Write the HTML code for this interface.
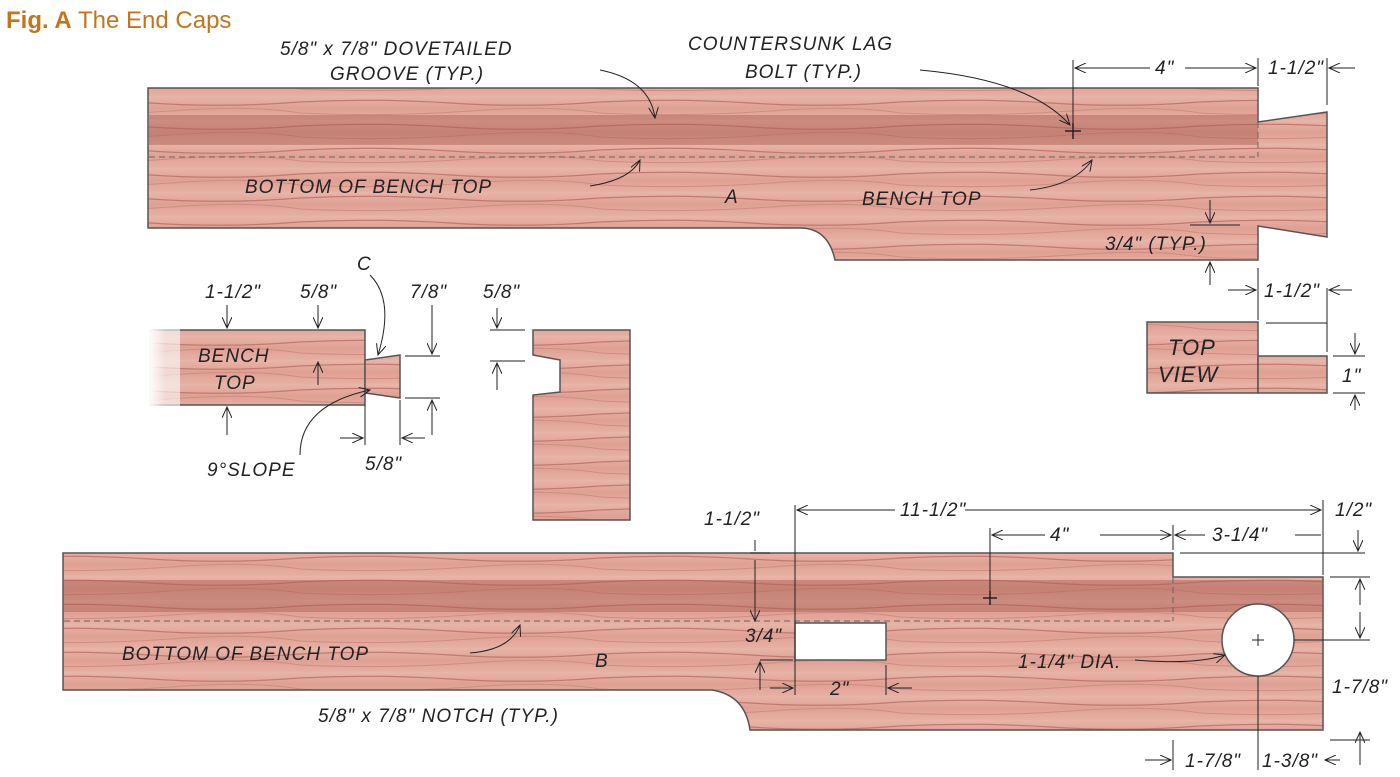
<!DOCTYPE html>
<html><head><meta charset="utf-8"><style>
html,body{margin:0;padding:0;background:#fff;width:1400px;height:777px;overflow:hidden}
svg text{font-family:"Liberation Sans",sans-serif;font-style:italic;fill:#222;font-size:19px;letter-spacing:1px}
</style></head><body>
<svg width="1400" height="777" viewBox="0 0 1400 777" xmlns="http://www.w3.org/2000/svg">
<defs>
<linearGradient id="w" x1="0" y1="0" x2="0" y2="1">
<stop offset="0" stop-color="#e8b6a9"/><stop offset="0.5" stop-color="#dea093"/><stop offset="1" stop-color="#e6b0a3"/></linearGradient>
<pattern id="g" width="300" height="24" patternUnits="userSpaceOnUse">
<rect width="300" height="24" fill="url(#w)"/>
<path d="M0 6 Q75 2 150 7 T300 6" stroke="#c27a70" stroke-width="1.2" fill="none"/>
<path d="M0 17 Q90 21 170 15 T300 17" stroke="#cf8d82" stroke-width="1" fill="none"/>
</pattern>
<linearGradient id="fade" x1="0" x2="1"><stop offset="0" stop-color="#fff"/><stop offset="0.25" stop-color="#fff" stop-opacity="0"/></linearGradient>
<marker id="a" markerWidth="12" markerHeight="10" refX="11" refY="5" orient="auto" markerUnits="userSpaceOnUse"><path d="M0 0 L11 5 L0 10" fill="none" stroke="#222" stroke-width="1"/></marker>
</defs>
<text x="6" y="28" style="font-style:normal;font-size:24px;fill:#c4751c;letter-spacing:0"><tspan font-weight="bold">Fig. A</tspan>  The End Caps</text>

<!-- Board A -->
<path d="M148 88 H1258 V122 L1327 112 V237 L1258 226 V260 H835 Q828 228 800 228 H148 Z" fill="url(#g)" stroke="#555" stroke-width="1.5"/>
<rect x="149" y="115" width="1109" height="30" fill="#a85a52" opacity="0.45"/>
<line x1="149" y1="157" x2="1258" y2="157" stroke="#666" stroke-dasharray="6 4"/>
<line x1="1258" y1="122" x2="1258" y2="157" stroke="#666" stroke-dasharray="6 4"/>
<text x="245" y="193">BOTTOM OF BENCH TOP</text>
<path d="M590 186 Q630 180 640 160" fill="none" stroke="#222" marker-end="url(#a)"/>
<text x="725" y="203">A</text>
<text x="862" y="205">BENCH TOP</text>
<path d="M1030 190 Q1075 185 1092 160" fill="none" stroke="#222" marker-end="url(#a)"/>
<text x="280" y="55">5/8" x 7/8" DOVETAILED</text>
<text x="330" y="80">GROOVE (TYP.)</text>
<path d="M600 70 Q650 80 655 118" fill="none" stroke="#222" marker-end="url(#a)"/>
<text x="688" y="50">COUNTERSUNK LAG</text>
<text x="745" y="78">BOLT (TYP.)</text>
<path d="M920 70 Q1030 80 1070 125" fill="none" stroke="#222" marker-end="url(#a)"/>
<path d="M1065 131 H1081 M1073 123 V139" stroke="#222" stroke-width="1.5"/>
<line x1="1073" y1="60" x2="1073" y2="123" stroke="#222"/>
<line x1="1150" y1="68" x2="1075" y2="68" stroke="#222" marker-end="url(#a)"/>
<line x1="1185" y1="68" x2="1256" y2="68" stroke="#222" marker-end="url(#a)"/>
<text x="1155" y="74">4"</text>
<line x1="1258" y1="58" x2="1258" y2="86" stroke="#222"/>
<text x="1268" y="74">1-1/2"</text>
<line x1="1355" y1="68" x2="1329" y2="68" stroke="#222" marker-end="url(#a)"/>
<line x1="1327" y1="58" x2="1327" y2="105" stroke="#222"/>
<line x1="1190" y1="225" x2="1240" y2="225" stroke="#222"/>
<line x1="1210" y1="200" x2="1210" y2="223" stroke="#222" marker-end="url(#a)"/>
<line x1="1210" y1="285" x2="1210" y2="262" stroke="#222" marker-end="url(#a)"/>
<text x="1105" y="250">3/4" (TYP.)</text>

<!-- top view -->
<line x1="1258" y1="268" x2="1258" y2="320" stroke="#222"/>
<line x1="1327" y1="288" x2="1327" y2="352" stroke="#222"/>
<line x1="1228" y1="290" x2="1256" y2="290" stroke="#222" marker-end="url(#a)"/>
<line x1="1352" y1="290" x2="1329" y2="290" stroke="#222" marker-end="url(#a)"/>
<text x="1264" y="297">1-1/2"</text>
<line x1="1266" y1="323" x2="1327" y2="323" stroke="#222"/>
<rect x="1147" y="322" width="111" height="71" fill="url(#g)" stroke="#555" stroke-width="1.5"/>
<rect x="1258" y="356" width="69" height="37" fill="url(#g)" stroke="#555" stroke-width="1.5"/>
<text x="1168" y="355" style="font-size:22px">TOP</text>
<text x="1158" y="382" style="font-size:22px">VIEW</text>
<line x1="1333" y1="356" x2="1365" y2="356" stroke="#222"/>
<line x1="1333" y1="393" x2="1365" y2="393" stroke="#222"/>
<line x1="1355" y1="333" x2="1355" y2="354" stroke="#222" marker-end="url(#a)"/>
<line x1="1355" y1="410" x2="1355" y2="395" stroke="#222" marker-end="url(#a)"/>
<text x="1342" y="382">1"</text>

<!-- small profile -->
<rect x="150" y="330" width="215" height="75" fill="url(#g)" stroke="#555" stroke-width="1.5"/>
<rect x="148" y="328" width="70" height="80" fill="url(#fade)"/>
<rect x="140" y="328" width="40" height="80" fill="#fff" opacity="0.6"/>
<path d="M365 360 L400 355 V398 L365 393 Z" fill="url(#g)" stroke="#555" stroke-width="1.5"/>
<text x="198" y="362">BENCH</text>
<text x="214" y="389">TOP</text>
<text x="205" y="298">1-1/2"</text>
<line x1="227" y1="305" x2="227" y2="328" stroke="#222" marker-end="url(#a)"/>
<line x1="227" y1="435" x2="227" y2="407" stroke="#222" marker-end="url(#a)"/>
<text x="300" y="298">5/8"</text>
<line x1="318" y1="305" x2="318" y2="328" stroke="#222" marker-end="url(#a)"/>
<line x1="318" y1="385" x2="318" y2="362" stroke="#222" marker-end="url(#a)"/>
<text x="357" y="270">C</text>
<path d="M370 275 Q395 300 378 355" fill="none" stroke="#222" marker-end="url(#a)"/>
<text x="410" y="298">7/8"</text>
<line x1="405" y1="356" x2="440" y2="356" stroke="#222"/>
<line x1="405" y1="398" x2="440" y2="398" stroke="#222"/>
<line x1="432" y1="305" x2="432" y2="354" stroke="#222" marker-end="url(#a)"/>
<line x1="432" y1="435" x2="432" y2="400" stroke="#222" marker-end="url(#a)"/>
<line x1="365" y1="405" x2="365" y2="445" stroke="#222"/>
<line x1="400" y1="400" x2="400" y2="445" stroke="#222"/>
<line x1="340" y1="438" x2="363" y2="438" stroke="#222" marker-end="url(#a)"/>
<line x1="425" y1="438" x2="402" y2="438" stroke="#222" marker-end="url(#a)"/>
<text x="365" y="470">5/8"</text>
<text x="207" y="476">9°SLOPE</text>
<path d="M300 455 Q300 405 370 390" fill="none" stroke="#222" marker-end="url(#a)"/>

<!-- middle profile -->
<path d="M533 330 H630 V520 H533 V395 L560 392 V360 L533 355 Z" fill="url(#g)" stroke="#555" stroke-width="1.5"/>
<text x="483" y="298">5/8"</text>
<line x1="490" y1="330" x2="525" y2="330" stroke="#222"/>
<line x1="490" y1="361" x2="525" y2="361" stroke="#222"/>
<line x1="497" y1="308" x2="497" y2="328" stroke="#222" marker-end="url(#a)"/>
<line x1="497" y1="390" x2="497" y2="363" stroke="#222" marker-end="url(#a)"/>

<!-- Board B -->
<path d="M63 553 H1173 V577 H1323 V730 H750 Q745 695 712 690 H63 Z" fill="url(#g)" stroke="#555" stroke-width="1.5"/>
<rect x="64" y="580" width="1259" height="32" fill="#a85a52" opacity="0.45"/>
<line x1="64" y1="621" x2="1173" y2="621" stroke="#666" stroke-dasharray="6 4"/>
<line x1="1173" y1="577" x2="1173" y2="621" stroke="#666" stroke-dasharray="6 4"/>
<rect x="795" y="623" width="91" height="37" fill="#fff" stroke="#555" stroke-width="1.5"/>
<circle cx="1258" cy="640" r="36" fill="#fff" stroke="#555" stroke-width="1.5"/>
<path d="M1252 640 H1264 M1258 634 V646" stroke="#222"/>
<path d="M983 598 H997 M990 591 V605" stroke="#222" stroke-width="1.5"/>
<text x="122" y="660">BOTTOM OF BENCH TOP</text>
<path d="M470 653 Q510 650 520 625" fill="none" stroke="#222" marker-end="url(#a)"/>
<text x="595" y="667">B</text>
<text x="318" y="722">5/8" x 7/8" NOTCH (TYP.)</text>
<text x="1018" y="668">1-1/4" DIA.</text>
<path d="M1135 660 Q1195 665 1225 655" fill="none" stroke="#222" marker-end="url(#a)"/>
<text x="704" y="525">1-1/2"</text>
<line x1="750" y1="553" x2="770" y2="553" stroke="#222"/>
<line x1="755" y1="540" x2="755" y2="551" stroke="#222"/>
<line x1="755" y1="560" x2="755" y2="621" stroke="#222" marker-end="url(#a)"/>
<text x="745" y="642">3/4"</text>
<line x1="760" y1="660" x2="793" y2="660" stroke="#222"/>
<line x1="760" y1="690" x2="760" y2="662" stroke="#222" marker-end="url(#a)"/>
<line x1="795" y1="505" x2="795" y2="695" stroke="#222"/>
<line x1="886" y1="665" x2="886" y2="695" stroke="#222"/>
<line x1="770" y1="688" x2="793" y2="688" stroke="#222" marker-end="url(#a)"/>
<line x1="912" y1="688" x2="888" y2="688" stroke="#222" marker-end="url(#a)"/>
<text x="830" y="695">2"</text>
<line x1="895" y1="510" x2="797" y2="510" stroke="#222" marker-end="url(#a)"/>
<line x1="965" y1="510" x2="1321" y2="510" stroke="#222" marker-end="url(#a)"/>
<text x="900" y="516">11-1/2"</text>
<line x1="1323" y1="500" x2="1323" y2="575" stroke="#222"/>
<text x="1335" y="516">1/2"</text>
<line x1="990" y1="528" x2="990" y2="591" stroke="#222"/>
<line x1="1045" y1="535" x2="992" y2="535" stroke="#222" marker-end="url(#a)"/>
<line x1="1100" y1="535" x2="1171" y2="535" stroke="#222" marker-end="url(#a)"/>
<text x="1050" y="541">4"</text>
<line x1="1173" y1="525" x2="1173" y2="550" stroke="#222"/>
<line x1="1205" y1="535" x2="1175" y2="535" stroke="#222" marker-end="url(#a)"/>
<text x="1212" y="541">3-1/4"</text>
<line x1="1295" y1="535" x2="1321" y2="535" stroke="#222"/>
<line x1="1180" y1="553" x2="1365" y2="553" stroke="#222"/>
<line x1="1358" y1="530" x2="1358" y2="551" stroke="#222" marker-end="url(#a)"/>
<line x1="1330" y1="577" x2="1370" y2="577" stroke="#222"/>
<line x1="1294" y1="640" x2="1370" y2="640" stroke="#222"/>
<line x1="1360" y1="605" x2="1360" y2="579" stroke="#222" marker-end="url(#a)"/>
<line x1="1360" y1="612" x2="1360" y2="638" stroke="#222" marker-end="url(#a)"/>
<text x="1332" y="693">1-7/8"</text>
<line x1="1258" y1="676" x2="1258" y2="770" stroke="#222"/>
<line x1="1173" y1="740" x2="1173" y2="770" stroke="#222"/>
<line x1="1330" y1="740" x2="1370" y2="740" stroke="#222"/>
<line x1="1360" y1="765" x2="1360" y2="732" stroke="#222" marker-end="url(#a)"/>
<line x1="1145" y1="760" x2="1171" y2="760" stroke="#222" marker-end="url(#a)"/>
<text x="1185" y="767">1-7/8"</text>
<text x="1262" y="767">1-3/8"</text>
<line x1="1340" y1="760" x2="1325" y2="760" stroke="#222" marker-end="url(#a)"/>
</svg>
</body></html>
